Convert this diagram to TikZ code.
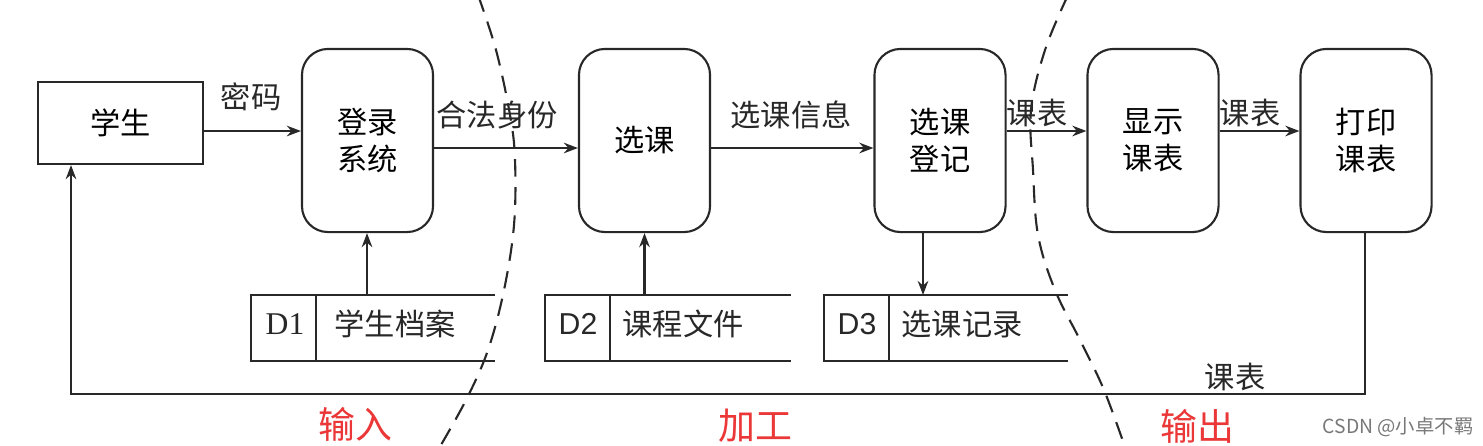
\documentclass[tikz,border=0pt]{standalone}
\usepackage{fontspec}
\setmainfont{Liberation Serif}
\newfontfamily\cjk{Noto Sans CJK SC}
\newfontfamily\lsans{Liberation Sans}
\usetikzlibrary{arrows.meta}
\definecolor{ln}{RGB}{40,40,40}
\definecolor{redl}{RGB}{235,55,55}
\definecolor{wm}{RGB}{120,120,120}
\tikzset{
  procbox/.style={draw=ln,line width=0.6pt,rounded corners=0.26cm,minimum width=1.31cm,minimum height=1.83cm,inner sep=0pt,align=center,font=\cjk\fontsize{8.6}{10.6}\selectfont},
  extbox/.style={draw=ln,line width=0.6pt,minimum width=1.65cm,minimum height=0.82cm,inner sep=0pt,font=\cjk\fontsize{8.6}{10}\selectfont},
  arr/.style={draw=ln,line width=0.6pt,-{Stealth[length=4pt,width=3pt]}},
  flowline/.style={draw=ln,line width=0.6pt},
  lbl/.style={font=\cjk\fontsize{8.6}{10}\selectfont,inner sep=0pt,text=ln},
  storetxt/.style={font=\cjk\fontsize{8.6}{10}\selectfont,inner sep=0pt,text=ln},
  boundary/.style={draw=ln,line width=0.6pt,dash pattern=on 5pt off 3pt},
  zone/.style={font=\cjk\fontsize{10.5}{12}\selectfont,text=redl,inner sep=0pt},
}
\begin{document}
\begin{tikzpicture}[x=0.01cm,y=-0.01cm]
\useasboundingbox (0,0) rectangle (1483,445);
\clip (0,0) rectangle (1483,445);
\fill[white] (0,0) rectangle (1483,445);

% dashed boundaries
\draw[boundary] plot[smooth,tension=0.6] coordinates {(478,-5) (496,50) (510,115) (515,160) (514,225) (504,290) (488,350) (466,400) (438,450)};
\draw[boundary] plot[smooth,tension=0.6] coordinates {(1068,-5) (1045,50) (1031,110) (1033,170) (1038,235) (1055,290) (1080,340) (1104,390) (1126,450)};

% external entity
\node[extbox] (stu) at (120.5,123) {学生};

% processes
\node[procbox] (p1) at (367.5,140.5) {登录\\系统};
\node[procbox] (p2) at (644.5,140.5) {选课};
\node[procbox] (p3) at (940,140.5) {选课\\登记};
\node[procbox] (p4) at (1153,140.5) {显示\\课表};
\node[procbox] (p5) at (1366,140.5) {打印\\课表};

% data stores
\draw[flowline] (495,295) -- (251,295) -- (251,361) -- (495,361) (316,295) -- (316,361);
\node[font=\fontsize{9}{10}\selectfont,inner sep=0pt,text=ln] (d1) at (285,324) {D1};
\node[storetxt] (s1) at (395,324) {学生档案};
\coordinate (s1top) at (367,295);

\draw[flowline] (791,295) -- (545,295) -- (545,361) -- (791,361) (610,295) -- (610,361);
\node[font=\lsans\fontsize{8.6}{10}\selectfont,inner sep=0pt,text=ln] (d2) at (578,324) {D2};
\node[storetxt] (s2) at (683,324) {课程文件};
\coordinate (s2top) at (644.5,295);

\draw[flowline] (1068,295) -- (824,295) -- (824,361) -- (1068,361) (889,295) -- (889,361);
\node[font=\lsans\fontsize{8.6}{10}\selectfont,inner sep=0pt,text=ln] (d3) at (857,324) {D3};
\node[storetxt] (s3) at (962,324) {选课记录};
\coordinate (s3top) at (923,295);

% flows
\draw[arr] ([yshift=-0.08cm]stu.east) -- ([yshift=-0.08cm]stu.east -| p1.west);
\node[lbl] at (251,97) {密码};
\draw[arr] ([yshift=-0.075cm]p1.east) -- ([yshift=-0.075cm]p2.west);
\node[lbl] at (497,115) {合法身份};
\draw[arr] ([yshift=-0.075cm]p2.east) -- ([yshift=-0.075cm]p3.west);
\node[lbl] at (791,115) {选课信息};
\draw[arr] ([yshift=0.095cm]p3.east) -- ([yshift=0.095cm]p4.west);
\node[lbl] at (1037,113) {课表};
\draw[arr] ([yshift=0.095cm]p4.east) -- ([yshift=0.095cm]p5.west);
\node[lbl] at (1250,113) {课表};

\draw[arr] (s1top) -- (s1top |- p1.south);
\draw[arr] (s2top) -- (s2top |- p2.south);
\draw[arr] (s3top |- p3.south) -- (s3top);

\coordinate (fbR) at (1365,394);
\coordinate (fbL) at (71,394);
\draw[arr] (fbR |- p5.south) -- (fbR) -- (fbL) -- (fbL |- stu.south);
\node[lbl] at (1235,377) {课表};

% zone labels
\node[zone] at (355,424) {输入};
\node[zone] at (755,426) {加工};
\node[zone] at (1197,426) {输出};

% watermark
\node[font=\cjk\fontsize{5.5}{7}\selectfont,text=wm,inner sep=0pt] at (1398,427) {CSDN @小卓不羁};
\end{tikzpicture}
\end{document}
